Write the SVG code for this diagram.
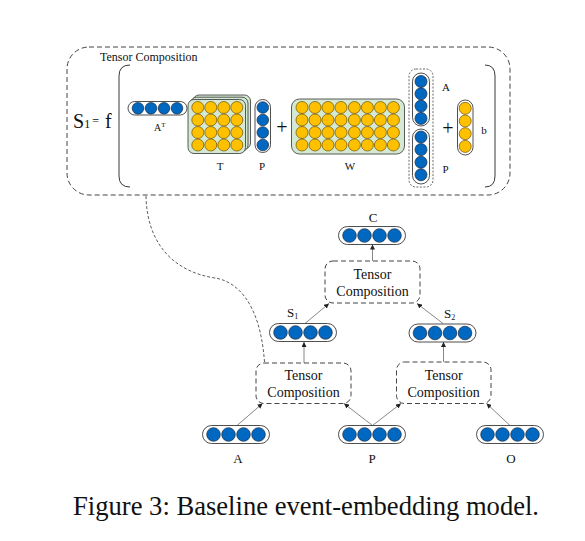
<svg xmlns="http://www.w3.org/2000/svg" width="585" height="541" viewBox="0 0 585 541">
<style>
.cap{fill:#fff;stroke:#222;stroke-width:0.8}
.b{fill:#0068C0;stroke:#1a2a40;stroke-width:0.7}
.y{fill:#FFC000;stroke:#6a5000;stroke-width:0.7}
.mat{fill:#D5E8D4;stroke:#333;stroke-width:0.8}
.dash{fill:none;stroke:#444;stroke-width:1;stroke-dasharray:5,3}
.t{font-family:"Liberation Serif","Times New Roman",serif;fill:#111}
.edge{stroke:#555;stroke-width:0.7;fill:none;marker-end:url(#ah)}
</style>
<defs>
<marker id="ah" viewBox="0 0 6 6" refX="6" refY="3" markerWidth="5" markerHeight="5" orient="auto" markerUnits="userSpaceOnUse"><path d="M0,0 L6,3 L0,6 z" fill="#222"/></marker>
<g id="vec4">
<rect class="cap" x="0" y="0" width="67" height="18" rx="9"/>
<circle class="b" cx="11" cy="9" r="6.8"/>
<circle class="b" cx="26" cy="9" r="6.8"/>
<circle class="b" cx="41" cy="9" r="6.8"/>
<circle class="b" cx="56" cy="9" r="6.8"/>
</g>
<g id="row4">
<circle class="y" cx="0" cy="0" r="6"/>
<circle class="y" cx="13" cy="0" r="6"/>
<circle class="y" cx="26" cy="0" r="6"/>
<circle class="y" cx="39" cy="0" r="6"/>
</g>
</defs>

<g id="tensor-composition-detail">
<rect class="dash" x="67" y="47" width="443" height="148" rx="22"/>
<text class="t" x="100" y="61" font-size="12">Tensor Composition</text>
<text class="t" x="73" y="127.5" font-size="20">S<tspan font-size="12">1</tspan><tspan font-size="12" dx="2" dy="-3">=</tspan><tspan dx="6" dy="3">f</tspan></text>
<path d="M130,65 Q119,65 119,76 L119,176 Q119,187 130,187" fill="none" stroke="#222" stroke-width="0.9"/>
<path d="M485,65 Q495,65 495,76 L495,176 Q495,187 485,187" fill="none" stroke="#222" stroke-width="0.9"/>

<g id="AT">
<rect class="cap" x="128" y="101.5" width="59" height="13.5" rx="6.75"/>
<circle class="b" cx="138" cy="108.3" r="5.8"/>
<circle class="b" cx="151" cy="108.3" r="5.8"/>
<circle class="b" cx="164" cy="108.3" r="5.8"/>
<circle class="b" cx="177" cy="108.3" r="5.8"/>
<text class="t" x="154" y="131" font-size="10">A<tspan font-size="7" dy="-4">T</tspan></text>
</g>

<g id="T">
<rect class="mat" x="193" y="95" width="57.5" height="54" rx="6" fill="#e4efe3"/>
<rect class="mat" x="190.5" y="97.2" width="57.5" height="54" rx="6"/>
<rect class="mat" x="188" y="99.5" width="57.5" height="54" rx="6"/>
<use href="#row4" x="197.8" y="107.5"/>
<use href="#row4" x="197.8" y="120"/>
<use href="#row4" x="197.8" y="132.5"/>
<use href="#row4" x="197.8" y="145"/>
<text class="t" x="220" y="170" font-size="11" text-anchor="middle">T</text>
</g>

<g id="P-vec">
<rect class="cap" x="255" y="99.5" width="15.5" height="53" rx="7.75"/>
<circle class="b" cx="262.8" cy="107.5" r="5.8"/>
<circle class="b" cx="262.8" cy="120" r="5.8"/>
<circle class="b" cx="262.8" cy="132.5" r="5.8"/>
<circle class="b" cx="262.8" cy="145" r="5.8"/>
<text class="t" x="262" y="170" font-size="11" text-anchor="middle">P</text>
</g>

<text class="t" x="282" y="134" font-size="20" text-anchor="middle">+</text>

<g id="W">
<rect class="mat" x="291.5" y="99" width="113" height="55" rx="8"/>
<use href="#row4" x="302" y="107.5"/>
<use href="#row4" x="354.4" y="107.5"/>
<use href="#row4" x="302" y="120"/>
<use href="#row4" x="354.4" y="120"/>
<use href="#row4" x="302" y="132.5"/>
<use href="#row4" x="354.4" y="132.5"/>
<use href="#row4" x="302" y="145"/>
<use href="#row4" x="354.4" y="145"/>
<text class="t" x="350" y="170" font-size="11" text-anchor="middle">W</text>
</g>

<g id="AP-concat">
<rect x="409" y="69" width="24" height="118" rx="7" fill="none" stroke="#444" stroke-width="0.8" stroke-dasharray="2,1.5"/>
<rect class="cap" x="412.5" y="73" width="17" height="53" rx="8.5"/>
<rect class="cap" x="412.5" y="129" width="17" height="55" rx="8.5"/>
<circle class="b" cx="421" cy="81.5" r="6"/>
<circle class="b" cx="421" cy="93.8" r="6"/>
<circle class="b" cx="421" cy="106.1" r="6"/>
<circle class="b" cx="421" cy="118.4" r="6"/>
<circle class="b" cx="421" cy="137" r="6"/>
<circle class="b" cx="421" cy="149.6" r="6"/>
<circle class="b" cx="421" cy="162.2" r="6"/>
<circle class="b" cx="421" cy="174.8" r="6"/>
<text class="t" x="446" y="91" font-size="11" text-anchor="middle">A</text>
<text class="t" x="445.5" y="173" font-size="11" text-anchor="middle">P</text>
</g>

<text class="t" x="448" y="135" font-size="20" text-anchor="middle">+</text>

<g id="b">
<rect class="cap" x="457.5" y="100" width="15.5" height="55" rx="7.75"/>
<circle class="y" cx="465.2" cy="108.3" r="6"/>
<circle class="y" cx="465.2" cy="121" r="6"/>
<circle class="y" cx="465.2" cy="133.7" r="6"/>
<circle class="y" cx="465.2" cy="146.4" r="6"/>
<text class="t" x="484" y="133.5" font-size="11" text-anchor="middle">b</text>
</g>
</g>

<g id="connectors">
<path d="M146,196 C147,245 175,272 215,278 C235,281 260,300 264.5,362" fill="none" stroke="#333" stroke-width="0.8" stroke-dasharray="3,2"/>
<line class="edge" x1="372.5" y1="261" x2="372.5" y2="244.5"/>
<line class="edge" x1="305" y1="323.5" x2="329" y2="303.5"/>
<line class="edge" x1="443" y1="323.5" x2="417" y2="303.5"/>
<line class="edge" x1="304" y1="363" x2="304" y2="342"/>
<line class="edge" x1="443.5" y1="362" x2="443.5" y2="342"/>
<line class="edge" x1="237" y1="425.5" x2="262.5" y2="403.5"/>
<line class="edge" x1="372.5" y1="425.5" x2="344" y2="403.5"/>
<line class="edge" x1="372.5" y1="425.5" x2="401" y2="403.5"/>
<line class="edge" x1="510" y1="425.5" x2="486.5" y2="403.5"/>
</g>

<g id="C">
<use href="#vec4" x="338.5" y="226.5"/>
<text class="t" x="373" y="222" font-size="13" text-anchor="middle">C</text>
</g>
<g id="tc-top">
<rect class="dash" x="325" y="261" width="95" height="42" rx="8"/>
<text class="t" x="372.5" y="279" font-size="14" text-anchor="middle">Tensor</text>
<text class="t" x="372.5" y="295.5" font-size="14" text-anchor="middle">Composition</text>
</g>
<g id="S1">
<use href="#vec4" x="269.5" y="323.5"/>
<text class="t" x="287" y="317" font-size="13">S<tspan font-size="8" dy="2">1</tspan></text>
</g>
<g id="S2">
<use href="#vec4" x="409" y="324"/>
<text class="t" x="444" y="318" font-size="13">S<tspan font-size="8" dy="2">2</tspan></text>
</g>
<g id="tc-left">
<rect class="dash" x="256" y="363" width="95" height="40.5" rx="8"/>
<text class="t" x="303.5" y="380" font-size="14" text-anchor="middle">Tensor</text>
<text class="t" x="303.5" y="396.5" font-size="14" text-anchor="middle">Composition</text>
</g>
<g id="tc-right">
<rect class="dash" x="396.5" y="362" width="94.5" height="41.5" rx="8"/>
<text class="t" x="443.7" y="380" font-size="14" text-anchor="middle">Tensor</text>
<text class="t" x="443.7" y="396.5" font-size="14" text-anchor="middle">Composition</text>
</g>
<g id="A">
<use href="#vec4" x="202.5" y="425.5"/>
<text class="t" x="238" y="462.5" font-size="13" text-anchor="middle">A</text>
</g>
<g id="P">
<use href="#vec4" x="338.5" y="425.5"/>
<text class="t" x="372" y="462.5" font-size="13" text-anchor="middle">P</text>
</g>
<g id="O">
<use href="#vec4" x="476.5" y="425.5"/>
<text class="t" x="511" y="462.5" font-size="13" text-anchor="middle">O</text>
</g>

<text class="t" x="73" y="515" font-size="26.6">Figure 3: Baseline event-embedding model.</text>
</svg>
